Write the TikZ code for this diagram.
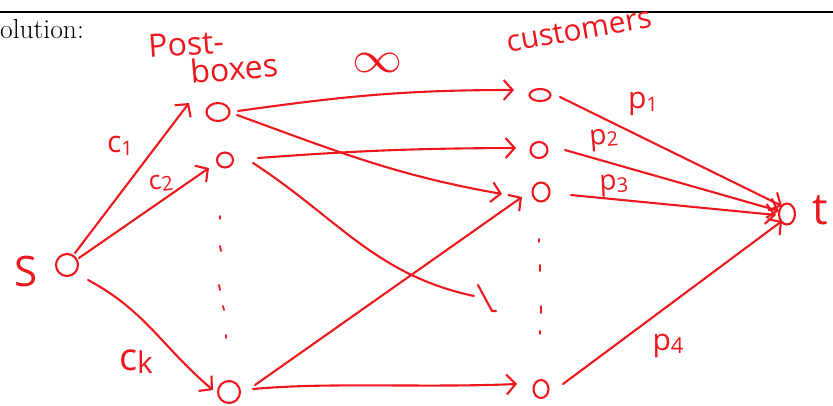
\documentclass[tikz,border=0pt]{standalone}
\usepackage{fontspec}
\newfontfamily\hand{Open Sans}
\usetikzlibrary{arrows.meta,calc,shapes.geometric}
\definecolor{ink}{RGB}{237,24,30}
\newcommand\lowidx[2]{{\fontsize{#1}{#1}\selectfont\raisebox{-3pt}{#2}}}
\begin{document}
\begin{tikzpicture}[x=1pt,y=-1pt,
  pen/.style={draw=ink,line width=2.1pt,line cap=round,line join=round},
  arr/.style={pen,-{Straight Barb[length=9pt,width=20pt]}},
  vtx/.style={ellipse,draw=ink,line width=2.1pt,inner sep=0pt},
  lbl/.style={text=ink,inner sep=0pt,font=\hand\fontsize{#1}{#1}\selectfont},
  lbl/.default=28,
  tick/.style={pen,line width=1.8pt}
]
\useasboundingbox (0,0) rectangle (833,405);

% header rule and the cut-off heading
\draw[line width=1.1pt] (0,12) -- (833,12);
\node[anchor=base west,inner sep=0pt,font=\fontsize{27.5}{27.5}\selectfont] (head) at (0,38) {olution:};

% vertices
\node[vtx,minimum width=22pt,minimum height=22pt] (s)  at (67,265) {};
\node[vtx,minimum width=23pt,minimum height=18pt] (b1) at (218,112) {};
\node[vtx,minimum width=16pt,minimum height=15pt] (b2) at (225,160) {};
\node[vtx,minimum width=22pt,minimum height=22pt] (bk) at (229,392) {};
\node[vtx,minimum width=21pt,minimum height=12pt] (u1) at (540,95) {};
\node[vtx,minimum width=17pt,minimum height=16pt] (u2) at (539,150) {};
\node[vtx,minimum width=17pt,minimum height=19pt] (u3) at (541,192) {};
\node[vtx,minimum width=15pt,minimum height=18pt] (uk) at (541,389) {};
\node[vtx,minimum width=16pt,minimum height=21pt] (t)  at (787,214) {};

% labels
\node[lbl=42] (sl) at (26,271) {S};
\node[lbl=44] (tl) at (820,210) {t};
\node[lbl=32,rotate=4] (post) at (186,44) {Post-};
\node[lbl=32,rotate=5] (boxes) at (234,68) {boxes};
\node[lbl=30,rotate=10] (cust) at (579,30) {customers};
\node[text=ink,inner sep=0pt] (inf) at (377,63) {\resizebox{50pt}{19pt}{$\infty$}};
\node[lbl=30] (c1) at (120,146) {c\lowidx{20}{1}};
\node[lbl=26,rotate=8] (c2) at (161,183) {c\lowidx{20}{2}};
\node[lbl=38] (ck) at (136,362) {c\lowidx{30}{k}};
\node[lbl=30] (p1) at (643,104) {p\lowidx{20}{1}};
\node[lbl=28,rotate=5] (p2) at (604,140) {p\lowidx{20}{2}};
\node[lbl=28,rotate=3] (p3) at (614,185) {p\lowidx{20}{3}};
\node[lbl=30] (p4) at (668,346) {p\lowidx{22}{4}};

% source to post-boxes
\draw[arr] ([shift={(8,-12)}]s.center) -- ([shift={(-29,-9)}]b1.center);
\draw[arr] ([shift={(12,-7)}]s.center) -- ([shift={(-16,8)}]b2.center);
\draw[arr] ([shift={(21,15)}]s.center) to[out=-28,in=140] ([shift={(-16,-2)}]bk.center);

% post-boxes to customers
\draw[arr] ([shift={(20,-1)}]b1.center) to[out=8,in=180] ([shift={(-26,-5)}]u1.center);
\draw[arr] ([shift={(19,3)}]b1.center) to[out=-20,in=170] ([shift={(-39,2)}]u3.center);
\draw[arr] ([shift={(33,-2)}]b2.center) to[bend left=2] ([shift={(-23,-2)}]u2.center);
\coordinate (lost) at (474,296);
\draw[pen] ([shift={(28,3)}]b2.center) to[out=-33,in=168] (lost);
\draw[pen] (478,285) -- (492,311) -- (496,311);
\draw[arr] ([shift={(26,-7)}]bk.center) -- ([shift={(-19,5)}]u3.center);
\draw[arr] ([shift={(24,-3)}]bk.center) .. controls (330,382) and (420,388) .. ([shift={(-24,-5)}]uk.center);

% customers to sink
\draw[arr] ([shift={(20,2)}]u1.center) -- ([shift={(-5,-8)}]t.center);
\draw[arr] ([shift={(26,0)}]u2.center) -- ([shift={(-8,-3)}]t.center);
\draw[arr] ([shift={(30,3)}]u3.center) -- ([shift={(-11,1)}]t.center);
\draw[arr] ([shift={(22,-5)}]uk.center) -- ([shift={(-5,7)}]t.center);

% vertical ellipses
\draw[tick] (220,216) -- (220,219);
\draw[tick] (220,246) -- (221,251);
\draw[tick] (219,285) -- (220,290);
\draw[tick] (223,306) -- (224,310);
\draw[tick] (226,335) -- (226,338);
\draw[tick] (539,239) -- (539,242);
\draw[tick] (540,265) -- (540,271);
\draw[tick] (541,306) -- (541,313);
\draw[tick] (540,331) -- (540,334);
\end{tikzpicture}
\end{document}
